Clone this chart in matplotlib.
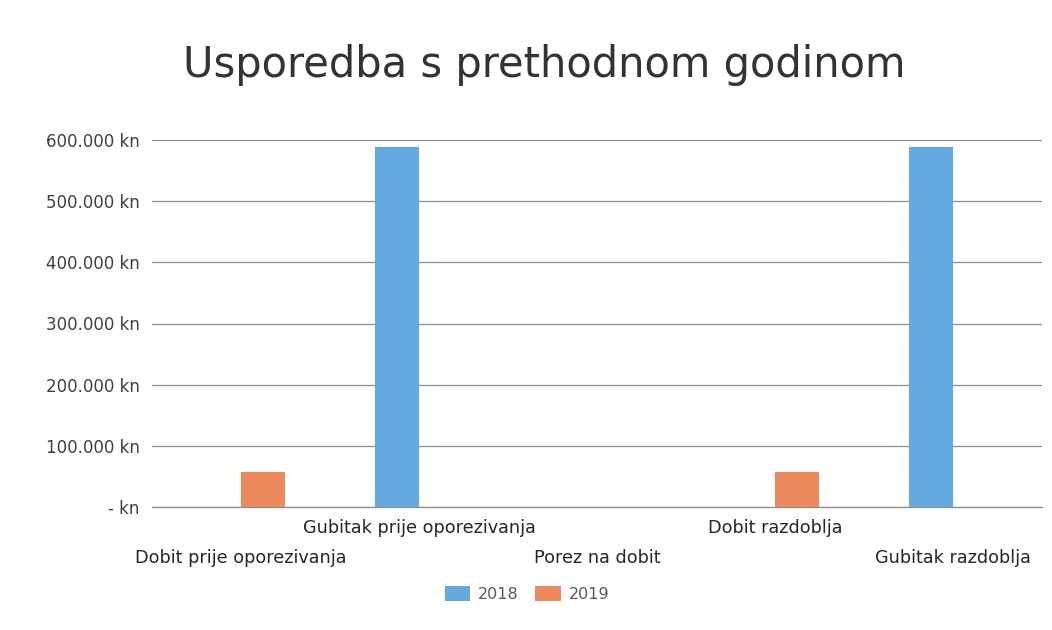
import matplotlib
matplotlib.use("Agg")
import matplotlib.pyplot as plt
import numpy as np

# podaci ocitani s grafa
kategorije = ["Dobit prije oporezivanja", "Gubitak prije oporezivanja",
              "Porez na dobit", "Dobit razdoblja", "Gubitak razdoblja"]
vrijednosti_2018 = [0, 589000, 0, 0, 589000]
vrijednosti_2019 = [57000, 0, 0, 57000, 0]
godine = ["2018", "2019"]
y_ticks = [0, 100000, 200000, 300000, 400000, 500000, 600000]

boja_2018 = "#64A9E0"
boja_2019 = "#EC8A5E"
siva_tekst = "#404040"


def format_kn(v):
    if v == 0:
        return "- kn"
    return f"{int(v):,}".replace(",", ".") + " kn"


fig = plt.figure(figsize=(10.52, 6.3), dpi=100)
fig.patch.set_facecolor("white")

# plot area (pikseli): lijevo 152, desno 1042, gore 140, dolje 507
W, H = 1052, 630
ax = fig.add_axes([152 / W, 1 - 507 / H, (1042 - 152) / W, (507 - 140) / H])

x = np.arange(len(kategorije))
sirina = 0.245
ax.bar(x - sirina / 2, vrijednosti_2018, sirina, color=boja_2018, label=godine[0], zorder=3)
ax.bar(x + sirina / 2, vrijednosti_2019, sirina, color=boja_2019, label=godine[1], zorder=3)

ax.set_xlim(-0.5, len(kategorije) - 0.5)
ax.set_ylim(0, 600000)
ax.set_yticks(y_ticks)
ax.set_yticklabels([format_kn(v) for v in y_ticks], fontsize=12, color=siva_tekst)
ax.tick_params(axis="y", length=0, pad=9)
ax.set_xticks([])

ax.grid(axis="y", color="#8c8c8c", linewidth=0.9, zorder=0)
ax.axhline(0, color="#8c8c8c", linewidth=0.9, zorder=2, clip_on=False)
for s in ax.spines.values():
    s.set_visible(False)

# kategorije u dva reda (naizmjenicno)
for i, naziv in enumerate(kategorije):
    pomak = -51 if i % 2 == 0 else -21
    ax.annotate(naziv, xy=(x[i], 0), xycoords=("data", "axes fraction"),
                xytext=(0, pomak), textcoords="offset pixels",
                ha="center", va="center", fontsize=12.7, color="#262626")

fig.text(0.517, 1 - 65 / H, "Usporedba s prethodnom godinom",
         ha="center", va="center", fontsize=30, color="#333333")

leg = fig.legend(loc="center", bbox_to_anchor=(527 / W, 1 - 594 / H), ncol=2,
                 frameon=False, fontsize=11.5, handlelength=1.6, handleheight=1.1,
                 columnspacing=1.0, handletextpad=0.5)
for t in leg.get_texts():
    t.set_color("#595959")

fig.savefig("out.png", dpi=100, facecolor="white")
